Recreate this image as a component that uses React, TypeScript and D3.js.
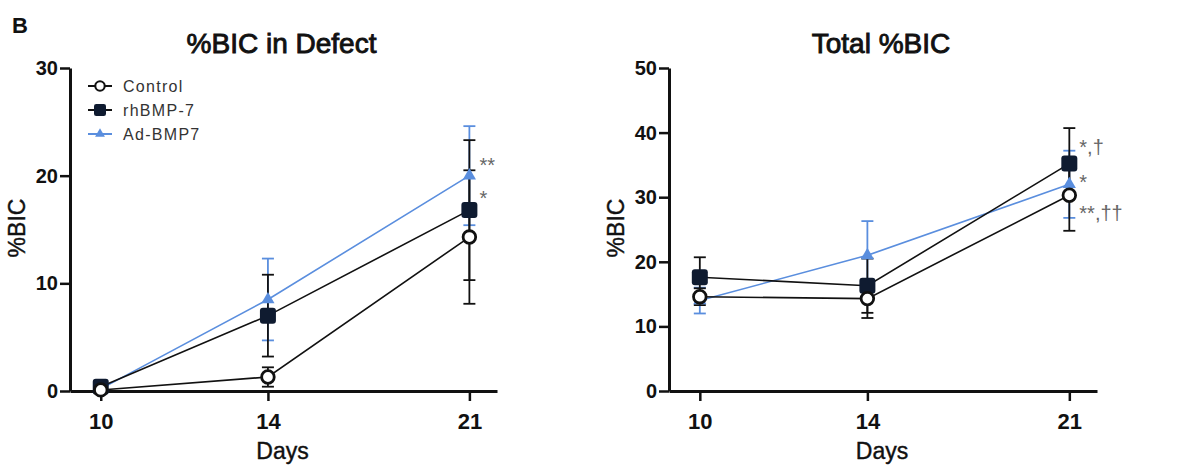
import React, { useEffect, useRef } from 'react';
import * as d3 from 'd3';

const days = [10, 14, 21];
const seriesNames = ['Control', 'rhBMP-7', 'Ad-BMP7'];

// %BIC in Defect
const defectControl = [0.1, 1.3, 14.3];
const defectControlErr = [0.3, 0.9, 6.2];
const defectRh = [0.4, 7.0, 16.8];
const defectRhErr = [0.3, 3.8, 6.5];
const defectAd = [0.2, 8.5, 20.0];
const defectAdErr = [0.2, 3.8, 4.6];
const defectYTicks = [0, 10, 20, 30];
const defectMarks = ['**', '*'];
const defectMarkAt = [21.5, 18.4];

// Total %BIC
const totalControl = [14.6, 14.3, 30.3];
const totalControlErr = [1.3, 3.0, 5.5];
const totalRh = [17.6, 16.3, 35.2];
const totalRhErr = [3.1, 4.2, 5.5];
const totalAd = [14.0, 21.0, 32.0];
const totalAdErr = [2.0, 5.3, 5.2];
const totalYTicks = [0, 10, 20, 30, 40, 50];
const totalMarks = ['*,†', '*', '**,††'];
const totalMarkAt = [38.5, 33.1, 28.3];

const FONT = '"Liberation Sans", Arial, sans-serif';
const BLACK = '#111';
const NAVY = '#0f1b30';
const BLUE = '#5a8ede';

type Series = { name: string; values: number[]; errs: number[]; color: string; shape: string };

function drawMarker(g: any, shape: string, cx: number, cy: number, s: number) {
  if (shape === 'circle') {
    g.append('circle').attr('cx', cx).attr('cy', cy).attr('r', 6.3 * s)
      .attr('fill', '#fff').attr('stroke', BLACK).attr('stroke-width', 2.8 * s);
  } else if (shape === 'square') {
    const w = 16 * s;
    g.append('rect').attr('x', cx - w / 2).attr('y', cy - w / 2).attr('width', w).attr('height', w)
      .attr('rx', 3 * s).attr('fill', NAVY);
  } else {
    const sym = d3.symbol().type(d3.symbolTriangle).size(75 * s * s);
    g.append('path').attr('d', sym()).attr('transform', `translate(${cx},${cy})`).attr('fill', BLUE);
  }
}

function drawPanel(svg: any, opts: {
  left: number; right: number; yMax: number; yTicks: number[]; title: string;
  series: Series[]; marks: string[]; markAt: number[]; legend: boolean;
}) {
  const top = 68, bottom = 391;
  const x = d3.scaleLog().domain([9.4, 22.2]).range([opts.left, opts.right]);
  const y = d3.scaleLinear().domain([0, opts.yMax]).range([bottom, top]);
  const g = svg.append('g');

  // axes
  const yAxis = d3.axisLeft(y).tickValues(opts.yTicks).tickFormat(d3.format('d'))
    .tickSize(10).tickSizeOuter(0).tickPadding(2);
  const ya = g.append('g').attr('transform', `translate(${opts.left},0)`).call(yAxis);
  const xAxis = d3.axisBottom(x).tickValues(days).tickFormat(d3.format('d'))
    .tickSize(10).tickSizeOuter(0).tickPadding(12);
  const xa = g.append('g').attr('transform', `translate(0,${bottom})`).call(xAxis);
  [ya, xa].forEach((a: any) => {
    a.select('.domain').attr('stroke', BLACK).attr('stroke-width', 3);
    a.selectAll('.tick line').attr('stroke', BLACK).attr('stroke-width', 2.5);
    a.selectAll('.tick text').attr('fill', BLACK).attr('font-family', FONT).attr('font-weight', 'bold');
  });
  ya.selectAll('.tick text').attr('font-size', 20);
  xa.selectAll('.tick text').attr('font-size', 22);

  // title and labels
  const cx = (opts.left + opts.right) / 2;
  g.append('text').attr('x', cx - 2).attr('y', 53).attr('text-anchor', 'middle')
    .attr('font-family', FONT).attr('font-size', 28).attr('fill', BLACK)
    .attr('stroke', BLACK).attr('stroke-width', 0.9).text(opts.title);
  g.append('text').attr('x', cx - 1).attr('y', 459).attr('text-anchor', 'middle')
    .attr('font-family', FONT).attr('font-size', 23).attr('fill', BLACK)
    .attr('stroke', BLACK).attr('stroke-width', 0.4).text('Days');
  g.append('text').attr('transform', `translate(${opts.left - 45},228) rotate(-90)`)
    .attr('text-anchor', 'middle').attr('font-family', FONT).attr('font-size', 23)
    .attr('fill', BLACK).attr('stroke', BLACK).attr('stroke-width', 0.4).text('%BIC');

  const line = d3.line<number>().x((_, i) => x(days[i])).y((d) => y(d));
  const lineColor = (s: Series) => (s.shape === 'triangle' ? BLUE : BLACK);

  // draw Ad-BMP7 first so the black series sit above it
  const order = [...opts.series].reverse();
  order.forEach((s) => {
    g.append('path').attr('d', line(s.values)).attr('fill', 'none')
      .attr('stroke', lineColor(s)).attr('stroke-width', 1.6);
  });
  order.forEach((s) => {
    const c = lineColor(s);
    s.values.forEach((v, i) => {
      const px = x(days[i]);
      const e = s.errs[i];
      g.append('line').attr('x1', px).attr('x2', px).attr('y1', y(v - e)).attr('y2', y(v + e))
        .attr('stroke', c).attr('stroke-width', 1.8);
      [v - e, v + e].forEach((ev) => {
        g.append('line').attr('x1', px - 6).attr('x2', px + 6).attr('y1', y(ev)).attr('y2', y(ev))
          .attr('stroke', c).attr('stroke-width', 1.8);
      });
    });
  });
  order.forEach((s) => {
    s.values.forEach((v, i) => drawMarker(g, s.shape, x(days[i]), y(v), 1));
  });

  // significance marks
  opts.marks.forEach((m, i) => {
    g.append('text').attr('x', x(21) + 10).attr('y', y(opts.markAt[i]) + 12)
      .attr('font-family', FONT).attr('font-size', 20).attr('fill', '#666').text(m);
  });

  if (opts.legend) {
    opts.series.forEach((s, i) => {
      const ly = 86 + i * 24;
      const lg = g.append('g');
      lg.append('line').attr('x1', 88).attr('x2', 112).attr('y1', ly).attr('y2', ly)
        .attr('stroke', lineColor(s)).attr('stroke-width', 2);
      drawMarker(lg, s.shape, 100, ly, 0.75);
      lg.append('text').attr('x', 123).attr('y', ly + 6).attr('font-family', FONT)
        .attr('font-size', 16).attr('letter-spacing', 1.3).attr('fill', '#333').text(s.name);
    });
  }
}

export default function App() {
  const ref = useRef<SVGSVGElement>(null);
  useEffect(() => {
    const svg = d3.select(ref.current);
    svg.selectAll('*').remove();
    svg.append('rect').attr('width', 1195).attr('height', 468).attr('fill', '#fff');
    svg.append('text').attr('x', 12).attr('y', 33).attr('font-family', FONT)
      .attr('font-size', 22).attr('font-weight', 'bold').attr('fill', BLACK).text('B');

    const shapes = ['circle', 'square', 'triangle'];
    const colors = [BLACK, NAVY, BLUE];
    const mk = (vals: number[][], errs: number[][]): Series[] =>
      seriesNames.map((n, i) => ({ name: n, values: vals[i], errs: errs[i], color: colors[i], shape: shapes[i] }));

    drawPanel(svg, {
      left: 70, right: 497, yMax: 30, yTicks: defectYTicks, title: '%BIC in Defect',
      series: mk([defectControl, defectRh, defectAd], [defectControlErr, defectRhErr, defectAdErr]),
      marks: defectMarks, markAt: defectMarkAt, legend: true,
    });
    drawPanel(svg, {
      left: 669, right: 1097, yMax: 50, yTicks: totalYTicks, title: 'Total %BIC',
      series: mk([totalControl, totalRh, totalAd], [totalControlErr, totalRhErr, totalAdErr]),
      marks: totalMarks, markAt: totalMarkAt, legend: false,
    });
  }, []);

  return (
    <div style={{ position: 'absolute', left: 0, top: 0 }}>
      <svg ref={ref} width={1195} height={468} style={{ display: 'block' }} />
    </div>
  );
}
